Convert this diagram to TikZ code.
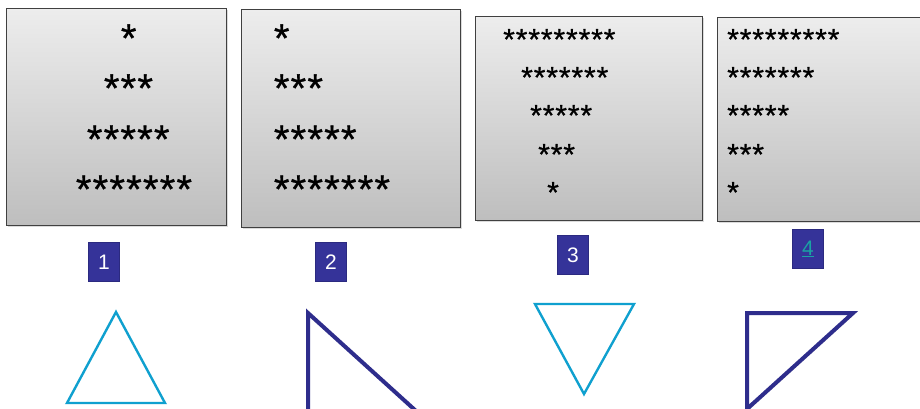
\documentclass[tikz,border=0pt]{standalone}
\usepackage{fontspec}
\setmainfont{Liberation Sans}
\newfontfamily\starfont[FakeBold=0.7,LetterSpace=3]{Liberation Sans}
\usetikzlibrary{shadows}
\definecolor{lblfill}{HTML}{353399}
\definecolor{lbldraw}{HTML}{2B2A80}
\definecolor{teal4}{HTML}{1AA3A3}
\definecolor{cyantri}{HTML}{0FA0CF}
\definecolor{navytri}{HTML}{2E2D8C}
\definecolor{paneltop}{HTML}{EDEDED}
\definecolor{panelbot}{HTML}{BEBEBE}
\tikzset{
  panel/.style={draw=black!75, line width=0.9pt, top color=paneltop, bottom color=panelbot, inner sep=0pt,
    drop shadow={shadow xshift=1.5pt, shadow yshift=-1.5pt, opacity=0.35, fill=black!40}},
  bigstars/.style={anchor=base west, inner sep=0pt, font=\starfont\fontsize{40}{40}\selectfont},
  smallstars/.style={anchor=base west, inner sep=0pt, font=\starfont\fontsize{30}{30}\selectfont},
  lbl/.style={draw=lbldraw, line width=1pt, fill=lblfill, text=white, inner sep=0pt,
    minimum width=31pt, minimum height=39pt, font=\fontsize{21}{21}\selectfont},
  cyantriangle/.style={draw=cyantri, line width=2.4pt, line join=miter},
  navytriangle/.style={draw=navytri, line width=4pt, line join=miter,
    drop shadow={shadow xshift=1pt, shadow yshift=-1.5pt, opacity=0.3, fill=none, draw=black!50}},
}
\begin{document}
\begin{tikzpicture}[x=1pt, y=-1pt]
\useasboundingbox (0,0) rectangle (920,408);
\fill[white] (0,0) rectangle (920,408);
\clip (0,0) rectangle (920,408);
% panels
\node[panel, minimum width=220pt, minimum height=217pt] (p1) at (116,116.5) {};
\node[panel, minimum width=219pt, minimum height=218pt] (p2) at (350.5,118) {};
\node[panel, minimum width=227pt, minimum height=204pt] (p3) at (588.5,118) {};
\node[panel, minimum width=210pt, minimum height=204pt] (p4) at (822,119) {};
% panel 1 stars
\node[bigstars] (s11) at (120.7,51.9) {*};
\node[bigstars] (s12) at (103.7,101.9) {***};
\node[bigstars] (s13) at (86.7,152.9) {*****};
\node[bigstars] (s14) at (75.7,202.9) {*******};
% panel 2 stars
\node[bigstars] (s21) at (273.7,51.9) {*};
\node[bigstars] (s22) at (273.7,101.9) {***};
\node[bigstars] (s23) at (273.7,152.9) {*****};
\node[bigstars] (s24) at (273.7,202.9) {*******};
% panel 3 stars
\node[smallstars] (s31) at (503,49.7) {*********};
\node[smallstars] (s32) at (521,87.7) {*******};
\node[smallstars] (s33) at (530,125.7) {*****};
\node[smallstars] (s34) at (538,164.7) {***};
\node[smallstars] (s35) at (547,202.7) {*};
% panel 4 stars
\node[smallstars] (s41) at (727,49.7) {*********};
\node[smallstars] (s42) at (727,87.7) {*******};
\node[smallstars] (s43) at (727,125.7) {*****};
\node[smallstars] (s44) at (727,164.7) {***};
\node[smallstars] (s45) at (727,202.7) {*};
% labels
\node[lbl] (l1) at (104,262) {1};
\node[lbl] (l2) at (331,262) {2};
\node[lbl] (l3) at (573,255) {3};
\node[lbl, text=teal4] (l4) at (808,249) {\underline{4}};
% triangles
\draw[cyantriangle] (116,312) -- (165,403) -- (67,403) -- cycle;
\draw[navytriangle] (308,313) -- (308,440) -- (448,440) -- cycle;
\draw[cyantriangle] (535,304) -- (634,304) -- (584,394) -- cycle;
\draw[navytriangle] (747,313) -- (853,313) -- (747,409) -- cycle;
\end{tikzpicture}
\end{document}
